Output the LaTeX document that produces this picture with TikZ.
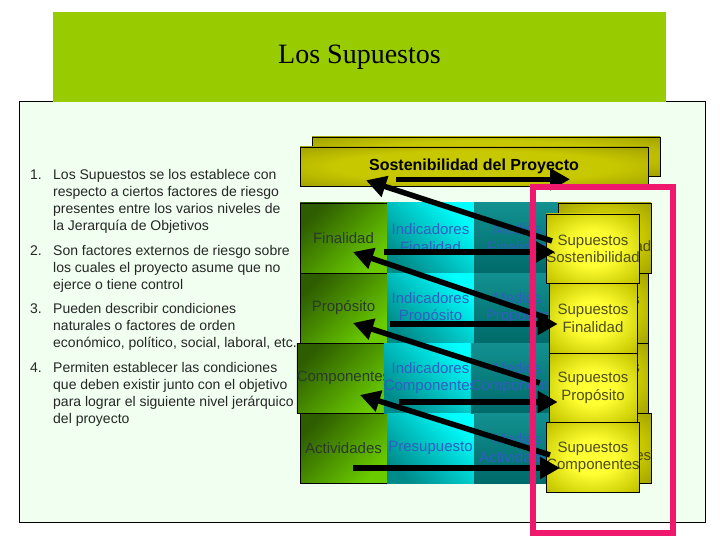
\documentclass[tikz,border=0pt]{standalone}
\usepackage{fontspec}
\setmainfont{Liberation Sans}
\newfontfamily\titlefont{Liberation Serif}
\usetikzlibrary{arrows.meta}

\definecolor{barragreen}{HTML}{99CC00}
\definecolor{panelbg}{HTML}{F0FFF0}
\definecolor{greenlt}{HTML}{6ACC00}
\definecolor{greendk}{HTML}{2E5C00}
\definecolor{cyanlt}{HTML}{00FFFF}
\definecolor{cyandk}{HTML}{008B8B}
\definecolor{teallt}{HTML}{139090}
\definecolor{tealdk}{HTML}{006A6A}
\definecolor{olivedk}{HTML}{8A8A00}
\definecolor{olivelt}{HTML}{FFFF33}
\definecolor{olivemid}{HTML}{C8C800}
\definecolor{pinkline}{HTML}{F0186C}
\definecolor{txtgreen}{HTML}{2A3A2A}
\definecolor{txtblue}{HTML}{2F5FBF}
\definecolor{txtolive}{HTML}{4D4D1A}

\pgfdeclareradialshading{bisel}{\pgfpoint{0bp}{0bp}}{color(0bp)=(olivelt); color(12bp)=(olivelt);
  color(32bp)=(olivemid); color(46bp)=(olivedk); color(50bp)=(olivedk)}
\pgfdeclareradialshading{biselB}{\pgfpoint{0bp}{0bp}}{color(0bp)=(olivemid); color(20bp)=(olivemid);
  color(45bp)=(olivedk); color(50bp)=(olivedk)}

\tikzset{
  celda/.style={minimum width=87pt, minimum height=70pt, inner sep=0pt, align=center,
    font=\fontsize{15}{17.5}\selectfont},
  objetivo/.style={celda, draw=black, line width=0.6pt, top color=greendk, bottom color=greenlt,
    shading angle=45, text=txtgreen},
  indicador/.style={celda, top color=cyanlt, bottom color=cyandk, shading angle=-45, text=txtblue},
  medio/.style={celda, top color=teallt, bottom color=tealdk, text=txtblue},
  supuesto/.style={celda, minimum width=88pt, minimum height=69.5pt, draw=black, line width=0.6pt,
    shading=bisel, text=txtolive},
  supuestoB/.style={celda, draw=black, line width=0.6pt, shading=biselB, text=txtolive},
  cabecera/.style={draw=black, line width=0.6pt, minimum width=348pt, minimum height=39pt,
    shading=biselB, font=\bfseries\fontsize{16}{19}\selectfont},
  numero/.style={anchor=north west, inner sep=0pt, text=black!85, font=\fontsize{14}{17}\selectfont},
  lista/.style={numero, align=left},
  flecha/.style={line width=5.5pt, -{Triangle[length=20pt,width=21pt]}}
}

\begin{document}
\begin{tikzpicture}[x=1pt, y=-1pt]
  \useasboundingbox (0,0) rectangle (720,540);
  \fill[white] (0,0) rectangle (720,540);

  % Panel and title
  \draw[fill=panelbg, line width=1pt] (19,102) rectangle (705,522);
  \node[fill=barragreen, minimum width=613pt, minimum height=90pt,
        font=\titlefont\fontsize{28}{31}\selectfont] (titulo) at (359.5,57) {Los Supuestos};

  % List of statements
  \foreach \num/\ypos/\texto in {
      1/179/{Los Supuestos se los establece con\\respecto a ciertos factores de riesgo\\presentes entre los varios niveles de\\la Jerarquía de Objetivos},
      2/255/{Son factores externos de riesgo sobre\\los cuales el proyecto asume que no\\ejerce o tiene control},
      3/313/{Pueden describir condiciones\\naturales o factores de orden\\económico, político, social, laboral, etc.},
      4/372/{Permiten establecer las condiciones\\que deben existir junto con el objetivo\\para lograr el siguiente nivel jerárquico\\del proyecto}} {
    \node[numero] (n\num) at (30,\ypos-11) {\rule{0pt}{11pt}\num.};
    \node[lista] (item\num) at (53,\ypos-11) {\rule{0pt}{11pt}\texto};
  }

  % Header
  \node[cabecera] (sostB) at (486,156.5) {};
  \node[cabecera] (sost) at (474,166.5) {Sostenibilidad del Proyecto};

  % Matrix columns
  \foreach \name/\ypos/\texto in {fin/238/Finalidad, pro/308/Propósito, com/378/Componentes, act/448/Actividades} {
    \node[objetivo] (\name) at (343.5,\ypos) {\texto};
  }
  \foreach \name/\ypos/\texto in {iFin/238/{Indicadores\\Finalidad}, iPro/308/{Indicadores\\Propósito},
      iCom/378/{Indicadores\\Componentes}, pres/448/Presupuesto} {
    \node[indicador] (\name) at (430.5,\ypos) {\texto};
  }
  \foreach \name/\ypos/\texto in {mFin/238/{Medios\\Finalidad}, mPro/308/{Medios\\Propósito},
      mCom/378/{Medios\\Componentes}, mAct/448/{Medios\\Actividades}} {
    \node[medio] (\name) at (517.5,\ypos) {\texto};
  }

  % Assumptions (back and front)
  \foreach \i/\ypos/\texto in {1/238/{Supuestos\\Sostenibilidad}, 2/308/{Supuestos\\Finalidad},
      3/378/{Supuestos\\Propósito}, 4/448/{Supuestos\\Componentes}} {
    \node[supuestoB] (sBk\i) at (604.5,\ypos) {\texto};
  }
  \foreach \name/\ypos/\texto in {sSos/248.75/{Supuestos\\Sostenibilidad}, sFin/318.25/{Supuestos\\Finalidad},
      sPro/387.75/{Supuestos\\Propósito}, sCom/457.25/{Supuestos\\Componentes}} {
    \node[supuesto] (\name) at (593,\ypos) {\texto};
  }

  % Arrows
  \draw[flecha] ([xshift=-78pt,yshift=7pt]sost.south) -- ([xshift=96pt,yshift=7pt]sost.south);
  \draw[flecha] ([xshift=6pt,yshift=7.75pt]sSos.west) -- ([xshift=-108pt,yshift=6pt]sost.south);
  \draw[flecha] ([xshift=-3pt,yshift=-14pt]fin.east) -- ([xshift=9pt,yshift=-3.25pt]sSos.west);
  \draw[flecha] ([xshift=-1pt]sFin.west) -- ([xshift=9.5pt,yshift=-14pt]fin.center);
  \draw[flecha] ([xshift=3pt,yshift=-16pt]pro.east) -- ([xshift=9pt,yshift=-5.75pt]sFin.west);
  \draw[flecha] ([xshift=-9pt,yshift=4.75pt]sPro.west) -- ([xshift=9.5pt,yshift=-15pt]pro.center);
  \draw[flecha] ([xshift=8pt,yshift=-24pt]com.east) -- ([xshift=9pt,yshift=-14.25pt]sPro.west);
  \draw[flecha] ([xshift=4pt,yshift=2.25pt]sCom.west) -- ([xshift=16.5pt,yshift=-17pt]com.center);
  \draw[flecha] ([xshift=9.5pt,yshift=-20pt]act.center) -- ([xshift=14pt,yshift=-10.75pt]sCom.west);

  % Highlight
  \draw[pinkline, line width=6pt] (533,187) rectangle (673,533);
\end{tikzpicture}
\end{document}
